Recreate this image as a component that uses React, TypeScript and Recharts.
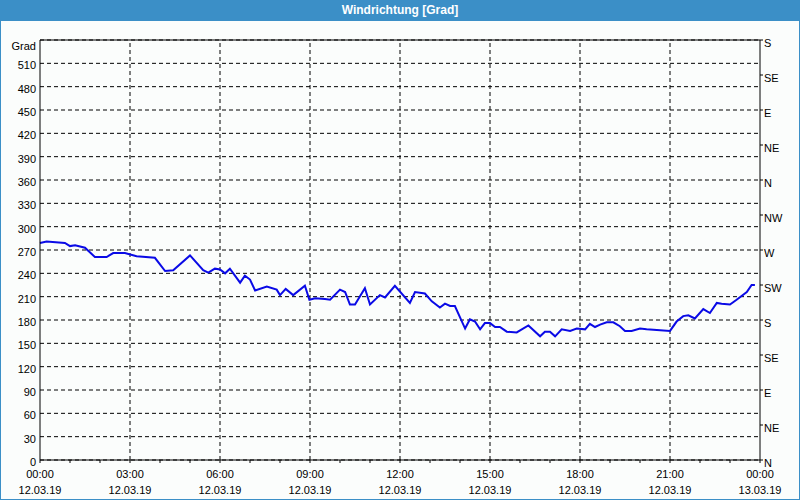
import React from "react";
import {
  LineChart,
  Line,
  XAxis,
  YAxis,
  CartesianGrid,
  ReferenceLine,
} from "recharts";

// hours since 12.03.19 00:00
const TIMES = [
  0, 0.22, 0.83, 1.0, 1.17, 1.5, 1.83, 2.22, 2.44, 2.83, 3.22, 3.83, 4.17, 4.44,
  5.0, 5.44, 5.61, 5.83, 6.0, 6.17, 6.33, 6.67, 6.83, 7.0, 7.17, 7.56, 7.89, 8.0,
  8.19, 8.44, 8.83, 8.98, 9.17, 9.5, 9.67, 10.0, 10.17, 10.33, 10.5, 10.83, 11.0,
  11.33, 11.5, 11.83, 12.33, 12.5, 12.83, 13.06, 13.33, 13.5, 13.67, 13.83, 14.17,
  14.33, 14.5, 14.67, 14.83, 15.0, 15.17, 15.33, 15.56, 15.89, 16.28, 16.67,
  16.83, 17.0, 17.17, 17.39, 17.67, 17.89, 18.17, 18.33, 18.5, 18.67, 18.89,
  19.11, 19.33, 19.5, 19.72, 20.0, 20.22, 20.56, 21.0, 21.22, 21.44, 21.61,
  21.83, 22.11, 22.33, 22.56, 22.72, 23.0, 23.22, 23.56, 23.72, 23.83,
];

// Windrichtung in Grad
const DIRECTION = [
  279, 281, 279, 275, 276, 273, 261, 261, 266, 266, 262, 260, 243, 244, 263,
  244, 241, 246, 245, 240, 246, 228, 237, 232, 218, 223, 219, 212, 220, 212,
  224, 206, 208, 207, 206, 219, 216, 200, 200, 221, 200, 212, 209, 224, 202,
  216, 214, 204, 196, 201, 198, 198, 169, 181, 178, 168, 176, 176, 171, 171,
  165, 164, 173, 159, 165, 165, 159, 168, 166, 169, 168, 175, 171, 174, 177,
  177, 172, 166, 166, 169, 168, 167, 166, 178, 185, 186, 182, 194, 189, 202,
  201, 200, 206, 216, 225, 225,
];

const X_TICKS = [
  0, 1, 2, 3, 4, 5, 6, 7, 8, 9, 10, 11, 12, 13, 14, 15, 16, 17, 18, 19, 20, 21,
  22, 23, 24,
];
const X_GRID = [3, 6, 9, 12, 15, 18, 21];
const X_TIME_LABELS = [
  "00:00", "03:00", "06:00", "09:00", "12:00", "15:00", "18:00", "21:00", "00:00",
];
const X_DATE_LABELS = [
  "12.03.19", "12.03.19", "12.03.19", "12.03.19", "12.03.19", "12.03.19",
  "12.03.19", "12.03.19", "13.03.19",
];

const LEFT_TICKS = [
  0, 30, 60, 90, 120, 150, 180, 210, 240, 270, 300, 330, 360, 390, 420, 450, 480,
  510, 540,
];
const RIGHT_TICKS = [0, 45, 90, 135, 180, 225, 270, 315, 360, 405, 450, 495, 540];
const RIGHT_LABELS = [
  "N", "NE", "E", "SE", "S", "SW", "W", "NW", "N", "NE", "E", "SE", "S",
];

const data = TIMES.map((h, i) => ({ h, dir: DIRECTION[i] }));

const BLUE = "#3b8fc7";
const FONT = "'Liberation Sans', Arial, sans-serif";

function LeftTick(props: any) {
  const { x, y, payload } = props;
  const isTop = payload.value === 540;
  return (
    <text
      x={x}
      y={y + (isTop ? 10 : 6)}
      textAnchor="end"
      fontFamily={FONT}
      fontSize={11}
      fill="#000"
    >
      {isTop ? "Grad" : payload.value}
    </text>
  );
}

function RightTick(props: any) {
  const { x, y, payload } = props;
  let idx = RIGHT_TICKS.indexOf(Number(payload.value));
  if (idx < 0) idx = payload.index ?? 0;
  return (
    <text x={x} y={y + 7} textAnchor="start" fontFamily={FONT} fontSize={11} fill="#000">
      {RIGHT_LABELS[idx]}
    </text>
  );
}

function BottomTick(props: any) {
  const { x, y, payload } = props;
  if (payload.value % 3 !== 0) return null;
  const idx = payload.value / 3;
  return (
    <g>
      <text x={x} y={y + 13} textAnchor="middle" fontFamily={FONT} fontSize={11} fill="#000">
        {X_TIME_LABELS[idx]}
      </text>
      <text x={x} y={y + 29} textAnchor="middle" fontFamily={FONT} fontSize={11} fill="#000">
        {X_DATE_LABELS[idx]}
      </text>
    </g>
  );
}

export default function App() {
  return (
    <div
      style={{
        position: "absolute",
        left: 0,
        top: 0,
        width: 800,
        height: 500,
        background: "#fbfdfc",
      }}
    >
      <LineChart
        width={800}
        height={500}
        data={data}
        margin={{ top: 40, right: 0, bottom: 0, left: 0 }}
        style={{ position: "absolute", left: 0, top: 0 }}
      >
        <CartesianGrid
          vertical={false}
          stroke="#000"
          strokeDasharray="4 3"
        />
        {X_GRID.map((h) => (
          <ReferenceLine key={h} x={h} stroke="#000" strokeDasharray="4 3" />
        ))}
        <ReferenceLine y={540} stroke="#000" />
        <XAxis
          dataKey="h"
          type="number"
          domain={[0, 24]}
          ticks={X_TICKS}
          interval={0}
          height={40}
          stroke="#000"
          tickSize={3}
          tickMargin={2}
          tick={<BottomTick />}
        />
        <YAxis
          type="number"
          domain={[0, 540]}
          ticks={LEFT_TICKS}
          interval={0}
          width={40}
          stroke="#000"
          tickLine={false}
          tickSize={0}
          tickMargin={4}
          tick={<LeftTick />}
        />
        <YAxis
          yAxisId="right"
          orientation="right"
          type="number"
          domain={[0, 540]}
          allowDataOverflow
          ticks={RIGHT_TICKS}
          interval={0}
          width={40}
          stroke="#000"
          tickSize={3}
          tickMargin={1}
          tick={<RightTick />}
        />
        <Line
          yAxisId="right"
          dataKey="dir"
          type="linear"
          stroke="none"
          strokeWidth={0}
          dot={false}
          legendType="none"
          isAnimationActive={false}
        />
        <Line
          dataKey="dir"
          type="linear"
          stroke="#0a0ae6"
          strokeWidth={2}
          dot={false}
          isAnimationActive={false}
        />
      </LineChart>
      <div
        style={{
          position: "absolute",
          left: 0,
          top: 0,
          width: 800,
          height: 21,
          background: BLUE,
          color: "#fff",
          fontFamily: FONT,
          fontWeight: "bold",
          fontSize: 12,
          lineHeight: "21px",
          textAlign: "center",
        }}
      >
        Windrichtung [Grad]
      </div>
      <div
        style={{
          position: "absolute",
          left: 0,
          top: 0,
          width: 800,
          height: 500,
          boxSizing: "border-box",
          border: `1px solid ${BLUE}`,
          borderTop: "none",
          pointerEvents: "none",
        }}
      />
    </div>
  );
}
